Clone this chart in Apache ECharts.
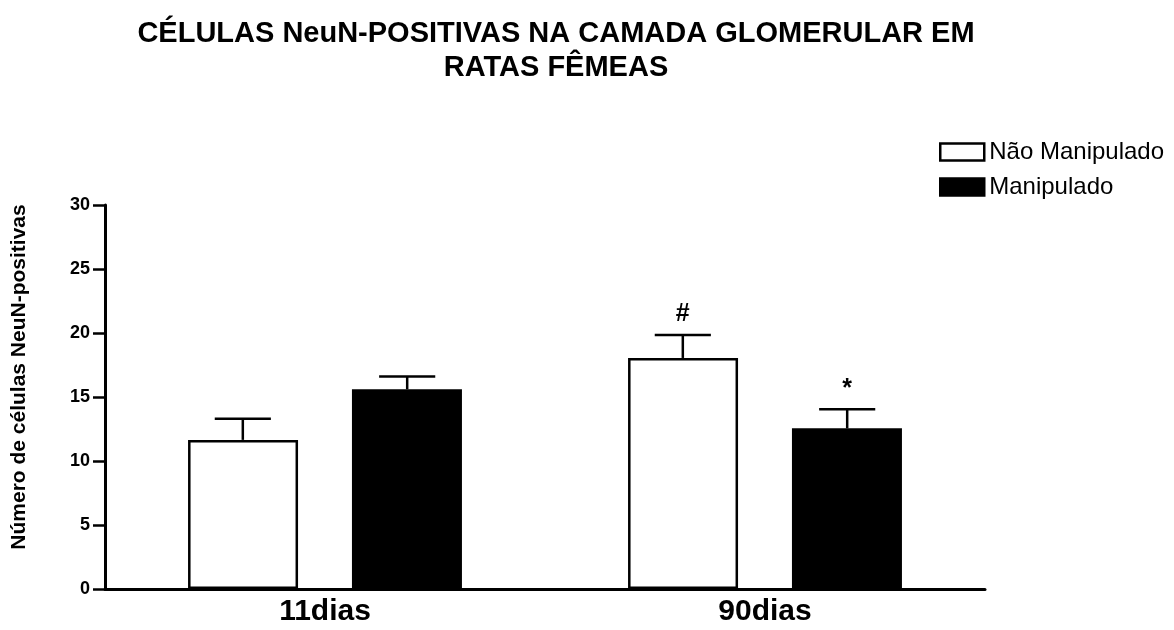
<!DOCTYPE html>
<html>
<head>
<meta charset="utf-8">
<script src="https://cdn.jsdelivr.net/npm/echarts@6/dist/echarts.min.js"></script>
<style>html,body{margin:0;padding:0;background:#fff}#c{width:1174px;height:630px}</style>
</head>
<body>
<div id="c"></div>
<script>
var categories = ['11dias', '90dias'];
var seriesNames = ['Não Manipulado', 'Manipulado'];
var naoManipulado = [11.65, 18.05];
var manipulado = [15.6, 12.55];
var naoManipuladoErr = [1.65, 1.8];
var manipuladoErr = [1.0, 1.5];
var naoManipuladoMark = ['', '#'];
var manipuladoMark = ['', '*'];
var yTicks = [0, 5, 10, 15, 20, 25, 30];

var FONT = 'Liberation Sans, Arial, sans-serif';
var chart = echarts.init(document.getElementById('c'), null, {renderer: 'canvas'});

function errData(vals, errs, marks) {
  return vals.map(function (v, i) { return [i, v, v + errs[i], marks[i]]; });
}
function errRender(side) {
  return function (params, api) {
    var idx = api.value(0);
    var base = api.coord([idx, api.value(1)]);
    var top = api.coord([idx, api.value(2)]);
    var band = api.size([1, 0])[0];
    var x = base[0] + side * band * (82 / 439);
    var half = band * (28 / 439);
    var st = {stroke: '#000', lineWidth: 2.5};
    var children = [
      {type: 'line', shape: {x1: x, y1: base[1], x2: x, y2: top[1]}, style: st},
      {type: 'line', shape: {x1: x - half, y1: top[1], x2: x + half, y2: top[1]}, style: st}
    ];
    var m = api.value(3);
    if (m) {
      children.push({type: 'text', style: {text: m, x: x, y: top[1] - 8, textAlign: 'center', textVerticalAlign: 'bottom', font: 'bold 25px ' + FONT, fill: '#000'}});
    }
    return {type: 'group', children: children};
  };
}

chart.setOption({
  animation: false,
  backgroundColor: '#fff',
  title: {
    text: 'CÉLULAS NeuN-POSITIVAS NA CAMADA GLOMERULAR EM\nRATAS FÊMEAS',
    left: 551, top: 12, textAlign: 'center',
    textStyle: {fontFamily: FONT, fontWeight: 'bold', fontSize: 29, lineHeight: 34, color: '#000'}
  },
  legend: {
    orient: 'vertical', left: 939, top: 140, padding: 0,
    icon: 'rect',
    itemWidth: 44, itemHeight: 17, itemGap: 11,
    data: seriesNames,
    itemStyle: {borderWidth: 2.5, borderColor: '#000'},
    textStyle: {fontFamily: FONT, fontSize: 24, color: '#000'}
  },
  grid: {left: 105, right: 189, top: 205, bottom: 41},
  xAxis: {
    type: 'category', data: categories,
    axisLine: {lineStyle: {color: '#000', width: 3}},
    axisTick: {show: false},
    axisLabel: {fontFamily: FONT, fontWeight: 'bold', fontSize: 30, color: '#000', margin: 8}
  },
  yAxis: {
    type: 'value', min: 0, max: 30, interval: 5,
    name: 'Número de células NeuN-positivas',
    nameLocation: 'middle', nameGap: 75, nameRotate: 90,
    nameTextStyle: {fontFamily: FONT, fontWeight: 'bold', fontSize: 21, color: '#000', padding: [0, 0, 0, 40]},
    axisLine: {show: true, lineStyle: {color: '#000', width: 3}},
    axisTick: {show: true, length: 12, lineStyle: {color: '#000', width: 2.5}},
    splitLine: {show: false},
    axisLabel: {fontFamily: FONT, fontWeight: 'bold', fontSize: 18, color: '#000', margin: 15,
      formatter: function (v) { return yTicks.indexOf(v) >= 0 ? String(v) : ''; }}
  },
  series: [
    {name: seriesNames[0], type: 'bar', data: naoManipulado, barWidth: 110, barGap: '49%',
     itemStyle: {color: '#fff', borderColor: '#000', borderWidth: 2.5}},
    {name: seriesNames[1], type: 'bar', data: manipulado, barWidth: 110,
     itemStyle: {color: '#000', borderColor: '#000', borderWidth: 0}},
    {type: 'custom', renderItem: errRender(-1), data: errData(naoManipulado, naoManipuladoErr, naoManipuladoMark), z: 1, encode: {x: 0, y: [1, 2]}},
    {type: 'custom', renderItem: errRender(1), data: errData(manipulado, manipuladoErr, manipuladoMark), z: 1, encode: {x: 0, y: [1, 2]}}
  ]
});
</script>
</body>
</html>
